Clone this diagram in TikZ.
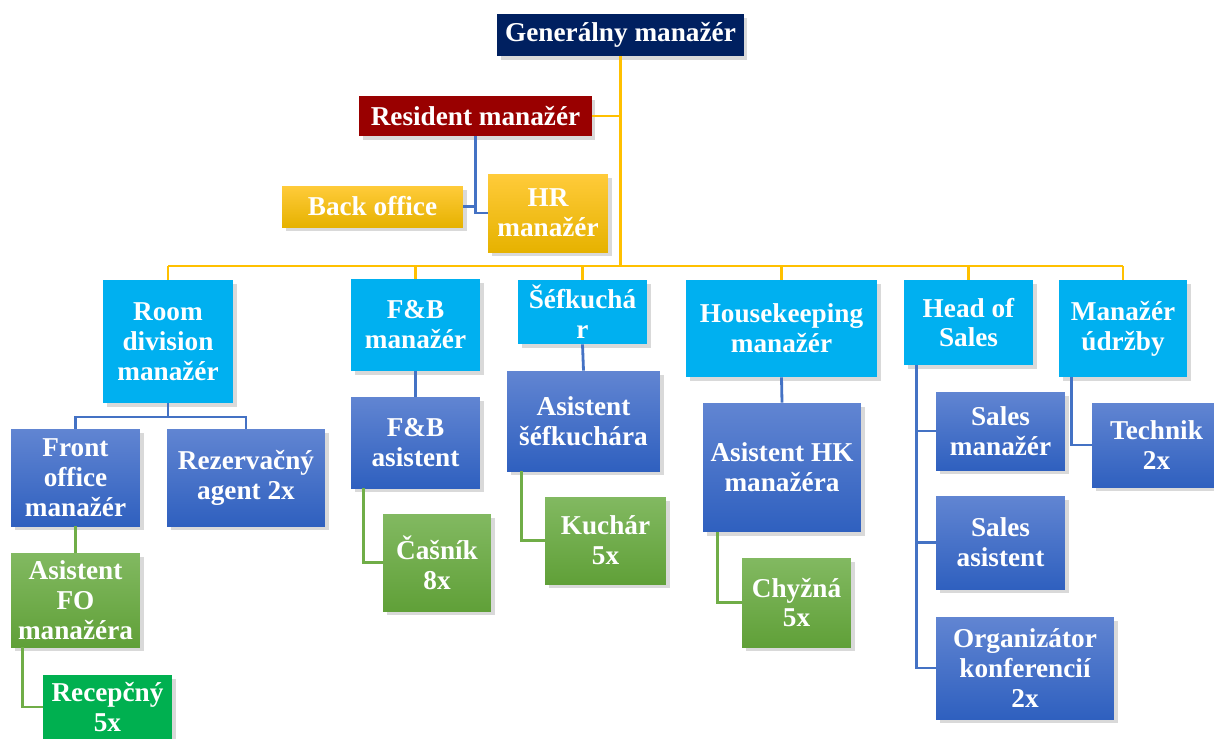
\documentclass[tikz,border=0pt]{standalone}
\usepackage{fontspec}
\setmainfont{Liberation Serif}
\usetikzlibrary{shadows}

\definecolor{navy}{HTML}{002060}
\definecolor{maroon}{HTML}{990000}
\definecolor{goldtop}{HTML}{FFCB3A}
\definecolor{goldbot}{HTML}{E6B200}
\definecolor{cyanbox}{HTML}{00B0F0}
\definecolor{bluetop}{HTML}{6185D2}
\definecolor{bluebot}{HTML}{2F60BF}
\definecolor{greentop}{HTML}{82B961}
\definecolor{greenbot}{HTML}{60A038}
\definecolor{recgreen}{HTML}{00B050}
\definecolor{goldln}{HTML}{FFC000}
\definecolor{blueln}{HTML}{4472C4}
\definecolor{greenln}{HTML}{70AD47}

\tikzstyle{box}=[draw=none, text=white, align=center, inner sep=1pt, font=\fontsize{15.5}{17}\selectfont\bfseries, drop shadow={opacity=0.3, shadow xshift=2pt, shadow yshift=-2pt}]
\tikzstyle{head}=[box, fill=navy]
\tikzstyle{resid}=[box, fill=maroon]
\tikzstyle{goldbox}=[box, top color=goldtop, bottom color=goldbot]
\tikzstyle{dept}=[box, fill=cyanbox]
\tikzstyle{staff}=[box, top color=bluetop, bottom color=bluebot]
\tikzstyle{crew}=[box, top color=greentop, bottom color=greenbot]
\tikzstyle{goldline}=[draw=goldln, line width=1.6pt]
\tikzstyle{blueline}=[draw=blueln, line width=1.6pt]
\tikzstyle{greenline}=[draw=greenln, line width=1.6pt]

\begin{document}
\begin{tikzpicture}[x=0.02cm, y=-0.02cm]
\useasboundingbox (0,0) rectangle (1214,738);

% top
\node[head, minimum width=4.94cm, minimum height=0.84cm] (gm) at (620.5,35) {Generálny manažér};
\node[resid, minimum width=4.66cm, minimum height=0.80cm] (res) at (475.5,116) {Resident manažér};
\node[goldbox, minimum width=3.62cm, minimum height=0.82cm] (bo) at (372.5,206.5) {Back office};
\node[goldbox, minimum width=2.40cm, minimum height=1.56cm] (hr) at (548,213) {HR\\manažér};

% departments
\node[dept, minimum width=2.60cm, minimum height=2.46cm] (rd) at (168,341.5) {Room\\division\\manažér};
\node[dept, minimum width=2.58cm, minimum height=1.84cm] (fb) at (415.5,325) {F\&B\\manažér};
\node[dept, minimum width=2.58cm, minimum height=1.28cm] (chef) at (582.5,312) {Šéfkuchá\\r};
\node[dept, minimum width=3.82cm, minimum height=1.94cm] (hk) at (781.5,328.5) {Housekeeping\\manažér};
\node[dept, minimum width=2.58cm, minimum height=1.70cm] (sales) at (968.5,322.5) {Head of\\Sales};
\node[dept, minimum width=2.56cm, minimum height=1.94cm] (maint) at (1123,328.5) {Manažér\\údržby};

\node[staff, minimum width=2.58cm, minimum height=1.94cm] (fo) at (75.5,477.5) {Front\\office\\manažér};
\node[staff, minimum width=3.16cm, minimum height=1.94cm] (rez) at (246,477.5) {Rezervačný\\agent 2x};
\node[staff, minimum width=2.58cm, minimum height=1.82cm] (fba) at (415.5,442.5) {F\&B\\asistent};
\node[staff, minimum width=3.06cm, minimum height=2.00cm] (ask) at (583.5,421) {Asistent\\šéfkuchára};
\node[staff, minimum width=3.16cm, minimum height=2.58cm] (ahk) at (782,467.5) {Asistent HK\\manažéra};
\node[staff, minimum width=2.58cm, minimum height=1.56cm] (sm) at (1000.5,431) {Sales\\manažér};
\node[staff, minimum width=2.58cm, minimum height=1.86cm] (sa) at (1000.5,542.5) {Sales\\asistent};
\node[staff, minimum width=3.56cm, minimum height=2.04cm] (org) at (1025,668) {Organizátor\\konferencií\\2x};
\node[staff, minimum width=2.58cm, minimum height=1.68cm] (tech) at (1156.5,445) {Technik\\2x};

\node[crew, minimum width=2.58cm, minimum height=1.88cm] (afo) at (75.5,600) {Asistent\\FO\\manažéra};
\node[box, fill=recgreen, minimum width=2.58cm, minimum height=1.28cm] (rec) at (107.5,707) {Recepčný\\5x};
\node[crew, minimum width=2.16cm, minimum height=1.94cm] (cas) at (437,562.5) {Čašník\\8x};
\node[crew, minimum width=2.42cm, minimum height=1.74cm] (kuch) at (605.5,540.5) {Kuchár\\5x};
\node[crew, minimum width=2.18cm, minimum height=1.78cm] (chy) at (796.5,602.5) {Chyžná\\5x};

% connectors
\coordinate (bus) at (621,266);
\coordinate (rdbar) at (168,417);
\draw[goldline] (gm.south) -- (gm.south |- bus);
\draw[goldline] (res.east) -- (res.east -| gm.south);
\draw[goldline] (rd.north |- bus) -- (maint.north |- bus);
\foreach \n in {rd,fb,chef,hk,sales,maint}{
  \draw[goldline] (\n.north) -- (\n.north |- bus);
}
\draw[blueline] (res.south) |- (hr.west);
\draw[blueline] (bo.east) -| (res.south);

\draw[blueline] (rd.south) -- (rdbar);
\draw[blueline] (fo.north) |- (rdbar) -| (rez.north);
\draw[blueline] (fb.south) -- (fba.north);
\draw[blueline] (chef.south) -- (ask.north);
\draw[blueline] (hk.south) -- (ahk.north);
\foreach \n in {sm,sa,org}{
  \draw[blueline] ([xshift=0.26cm]sales.south west) |- (\n.west);
}
\draw[blueline] ([xshift=0.26cm]maint.south west) |- (tech.west);

\draw[greenline] (fo.south) -- (afo.north);
\draw[greenline] ([xshift=0.24cm]afo.south west) |- (rec.west);
\draw[greenline] ([xshift=0.26cm]fba.south west) |- (cas.west);
\draw[greenline] ([xshift=0.30cm]ask.south west) |- (kuch.west);
\draw[greenline] ([xshift=0.30cm]ahk.south west) |- (chy.west);

\end{tikzpicture}
\end{document}
